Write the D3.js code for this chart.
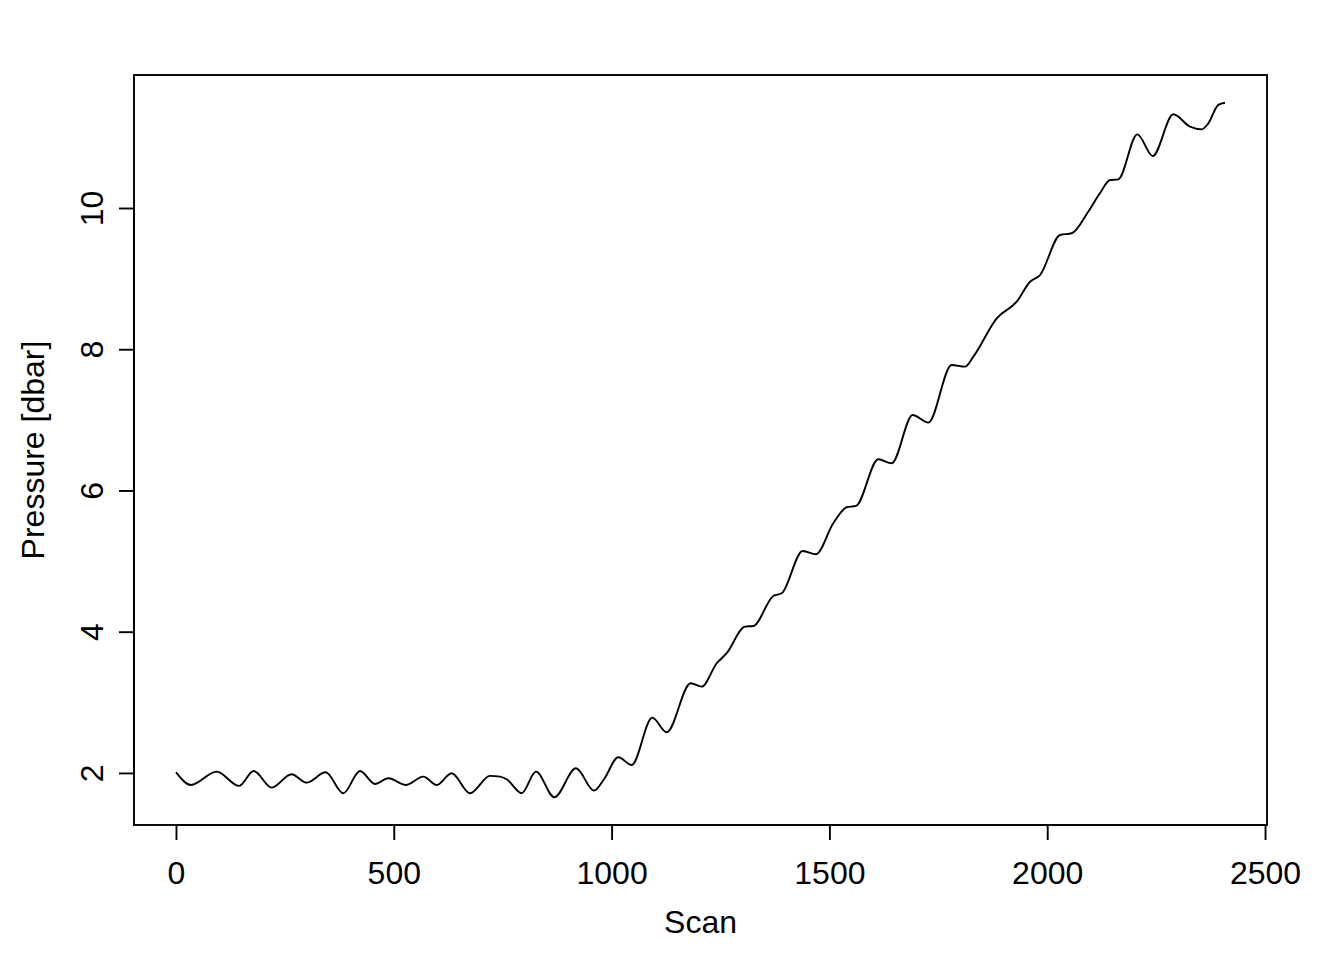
<!DOCTYPE html>
<html>
<head>
<meta charset="utf-8">
<script src="https://cdn.jsdelivr.net/npm/d3@7"></script>
<style>
  html, body { margin: 0; padding: 0; background: #fff; }
  svg { display: block; font-family: "Liberation Sans", Arial, Helvetica, sans-serif; }
</style>
</head>
<body>
<svg id="chart" width="1344" height="960"></svg>
<script>
// ---- data ----
const scan = [0, 34.4, 93.4, 144.6, 178.4, 219.7, 265.2, 300.0, 343.7, 384.1, 422.4, 456.8, 487.4, 528.0,
  567.7, 598.5, 632.9, 674.9, 720.8, 743.8, 759.2, 793.6, 826.4, 868.5, 918.3, 959.6, 982.6, 1015.4,
  1046.1, 1093.4, 1126.5, 1181.6, 1206.8, 1241.3, 1264.2, 1306.2, 1325.3, 1371.2, 1390.5, 1438.7,
  1469.2, 1508.9, 1539.7, 1561.1, 1612.3, 1643.0, 1691.2, 1727.0, 1780.7, 1811.3, 1830.4, 1884.1,
  1930.0, 1960.5, 1983.5, 2029.4, 2056.3, 2093.7, 2121.2, 2144.2, 2163.2, 2206.9, 2242.2, 2289.5,
  2327.8, 2354.7, 2369.8, 2392.8, 2408.2];
const pressure = [2.010, 1.830, 2.018, 1.816, 2.028, 1.792, 1.982, 1.863, 2.010, 1.713, 2.028, 1.844, 1.925, 1.830,
  1.948, 1.830, 1.996, 1.713, 1.958, 1.948, 1.911, 1.713, 2.018, 1.656, 2.067, 1.749, 1.911, 2.222,
  2.113, 2.783, 2.576, 3.270, 3.222, 3.553, 3.695, 4.072, 4.081, 4.506, 4.544, 5.143,
  5.097, 5.536, 5.762, 5.781, 6.442, 6.385, 7.069, 6.960, 7.777, 7.753, 7.895, 8.438,
  8.673, 8.956, 9.051, 9.618, 9.642, 9.943, 10.212, 10.396, 10.406, 11.043, 10.736, 11.327,
  11.151, 11.114, 11.199, 11.460, 11.490];
const xTicks = [0, 500, 1000, 1500, 2000, 2500];
const yTicks = [2, 4, 6, 8, 10];
const xLabel = "Scan";
const yLabel = "Pressure [dbar]";

// ---- layout ----
const box = { left: 134, right: 1267, top: 75, bottom: 825 };
const fontSize = 32;
const tickLen = 15;
const lw = 1.9;

const svg = d3.select("#chart");
const data = scan.map((s, i) => ({ x: s, y: pressure[i] }));

function rPad(ext) { const d = ext[1] - ext[0]; return [ext[0] - 0.04 * d, ext[1] + 0.04 * d]; }
const x = d3.scaleLinear().domain(rPad(d3.extent(scan))).range([box.left, box.right]);
const y = d3.scaleLinear().domain(rPad(d3.extent(pressure))).range([box.bottom, box.top]);

// line
svg.append("path")
  .datum(data)
  .attr("fill", "none")
  .attr("stroke", "#000")
  .attr("stroke-width", lw)
  .attr("stroke-linejoin", "round")
  .attr("d", d3.line().x(d => x(d.x)).y(d => y(d.y)).curve(d3.curveMonotoneX));

// box
svg.append("rect")
  .attr("x", box.left).attr("y", box.top)
  .attr("width", box.right - box.left).attr("height", box.bottom - box.top)
  .attr("fill", "none").attr("stroke", "#000").attr("stroke-width", lw);

// x axis
const xAxis = d3.axisBottom(x).tickValues(xTicks).tickSize(tickLen).tickFormat(d3.format("d"));
const gx = svg.append("g").attr("transform", `translate(0,${box.bottom})`).call(xAxis);
gx.select(".domain").attr("d", `M${x(xTicks[0])},0H${x(xTicks[xTicks.length - 1])}`).attr("stroke-width", lw);
gx.selectAll(".tick line").attr("stroke-width", lw);
gx.selectAll(".tick text").attr("font-size", fontSize).attr("font-family", "Liberation Sans, Arial, sans-serif")
  .attr("fill", "#000").attr("dy", null).attr("y", 59);

// y axis
const yAxis = d3.axisLeft(y).tickValues(yTicks).tickSize(tickLen).tickFormat(d3.format("d"));
const gy = svg.append("g").attr("transform", `translate(${box.left},0)`).call(yAxis);
gy.select(".domain").attr("d", `M0,${y(yTicks[0])}V${y(yTicks[yTicks.length - 1])}`).attr("stroke-width", lw);
gy.selectAll(".tick line").attr("stroke-width", lw);
gy.selectAll(".tick text").remove();
gy.selectAll(".tick").append("text")
  .attr("transform", "translate(-31,0) rotate(-90)")
  .attr("text-anchor", "middle")
  .attr("font-size", fontSize)
  .attr("font-family", "Liberation Sans, Arial, sans-serif")
  .attr("fill", "#000")
  .text(d => d);

// axis titles
svg.append("text")
  .attr("x", (box.left + box.right) / 2).attr("y", 933)
  .attr("text-anchor", "middle").attr("font-size", fontSize).attr("fill", "#000")
  .text(xLabel);
svg.append("text")
  .attr("transform", `translate(44,${(box.top + box.bottom) / 2}) rotate(-90)`)
  .attr("text-anchor", "middle").attr("font-size", fontSize).attr("fill", "#000")
  .text(yLabel);
</script>
</body>
</html>
